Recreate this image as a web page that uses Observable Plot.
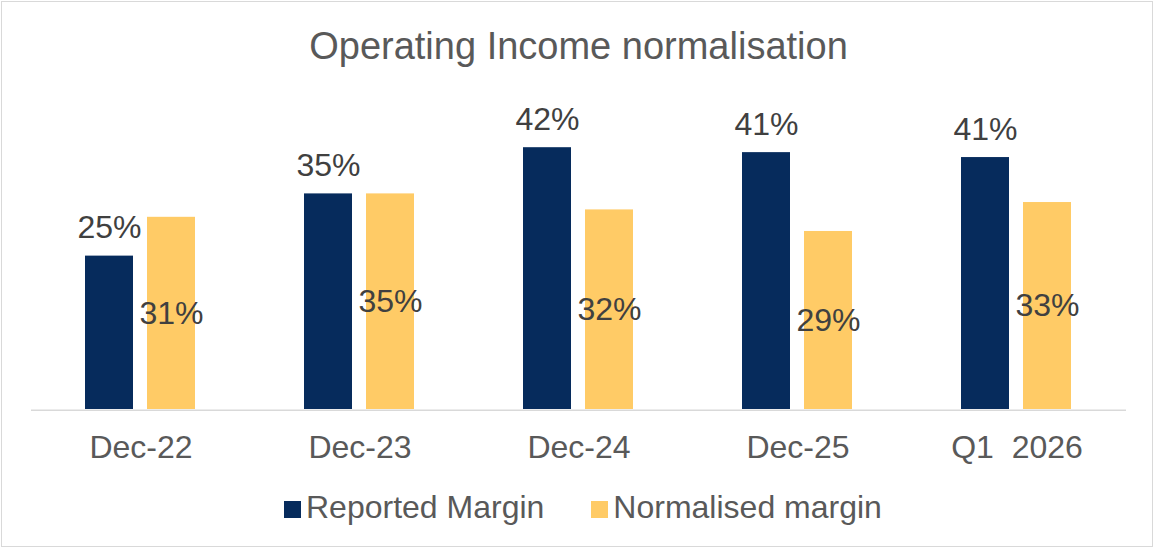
<!DOCTYPE html>
<html>
<head>
<meta charset="utf-8">
<script src="https://cdn.jsdelivr.net/npm/d3@7"></script>
<script src="https://cdn.jsdelivr.net/npm/@observablehq/plot@0.6"></script>
<style>
  html, body { margin: 0; padding: 0; background: #ffffff; }
  body { width: 1157px; height: 551px; overflow: hidden; position: relative; font-family: "Liberation Sans", Arial, sans-serif; }
  #frame { position: absolute; left: 1px; top: 1px; width: 1152px; height: 546px; border: 1.5px solid #d9d9d9; box-sizing: border-box; pointer-events: none; }
  #title { height: 75px; box-sizing: border-box; padding-top: 27px; font-size: 38px; line-height: 38px; color: #595959; text-align: center; white-space: nowrap; }
  #chart svg { display: block; }
  #chart svg text { white-space: pre; }
  #legend { height: 81px; box-sizing: border-box; padding-top: 21px; padding-left: 284px; font-size: 32px; line-height: 32px; color: #595959; display: flex; white-space: nowrap; }
  .item { display: flex; align-items: baseline; margin-right: 47px; }
  .sw { display: inline-block; width: 17px; height: 17px; margin-right: 5px; }
</style>
</head>
<body>
<div id="title">Operating Income normalisation</div>
<div id="chart"></div>
<div id="legend"></div>
<div id="frame"></div>
<script>
const categories = ["Dec-22", "Dec-23", "Dec-24", "Dec-25", "Q1  2026"];
const seriesNames = ["Reported Margin", "Normalised margin"];
const seriesColors = ["#062B5C", "#FFCB66"];
const reported = [24.9, 35.0, 42.5, 41.7, 40.9];
const normalised = [31.2, 35.0, 32.4, 28.9, 33.6];
const reportedLabels = ["25%", "35%", "42%", "41%", "41%"];
const normalisedLabels = ["31%", "35%", "32%", "29%", "33%"];

const repRows = categories.map((c, i) => ({cat: c, series: seriesNames[0], value: reported[i], label: reportedLabels[i]}));
const normRows = categories.map((c, i) => ({cat: c, series: seriesNames[1], value: normalised[i], label: normalisedLabels[i]}));
const rows = [...repRows, ...normRows];

const plot = Plot.plot({
  width: 1157,
  height: 395,
  marginTop: 26,
  marginBottom: 61,
  marginLeft: 30,
  marginRight: 31,
  style: {fontFamily: "'Liberation Sans', Arial, sans-serif", background: "transparent", overflow: "visible"},
  fx: {domain: categories, padding: 0, axis: null, label: null},
  x: {domain: seriesNames, paddingInner: 0.222, paddingOuter: 0.85, axis: null},
  y: {domain: [0, 50], axis: null},
  color: {domain: seriesNames, range: seriesColors},
  marks: [
    Plot.barY(rows, {fx: "cat", x: "series", y: "value", fill: "series"}),
    Plot.ruleY([0], {stroke: "#d9d9d9", strokeWidth: 1.5, dy: 0.75}),
    Plot.text(repRows, {fx: "cat", x: "series", y: "value", text: "label", lineAnchor: "bottom", dy: -18, fontSize: 32, fill: "#404040"}),
    Plot.text(normRows, {fx: "cat", x: "series", y: d => d.value / 2, text: "label", lineAnchor: "middle", fontSize: 32, fill: "#404040"}),
    Plot.axisFx({anchor: "bottom", tickSize: 0, tickPadding: 26, fontSize: 32, color: "#595959", label: null})
  ]
});
document.getElementById("chart").appendChild(plot);

const legend = document.getElementById("legend");
seriesNames.forEach((name, i) => {
  const item = document.createElement("div");
  item.className = "item";
  const sw = document.createElement("span");
  sw.className = "sw";
  sw.style.background = seriesColors[i];
  const label = document.createElement("span");
  label.textContent = name;
  item.appendChild(sw);
  item.appendChild(label);
  legend.appendChild(item);
});
</script>
</body>
</html>
